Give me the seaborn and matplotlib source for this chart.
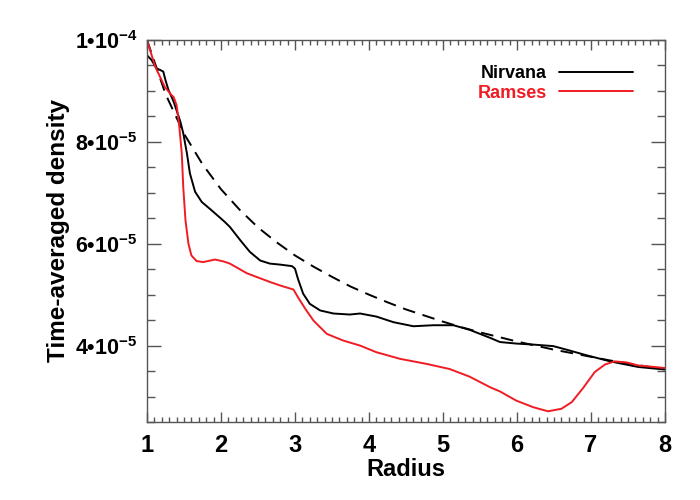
import numpy as np
import pandas as pd
import matplotlib
matplotlib.use("Agg")
import matplotlib.pyplot as plt
from matplotlib.ticker import MultipleLocator, FixedLocator, FixedFormatter
import seaborn as sns

# values, density in units of 1e-5
nirvana_r = [1.00, 1.06, 1.13, 1.18, 1.22, 1.25, 1.29, 1.36, 1.42, 1.45, 1.49, 1.54,
             1.58, 1.65, 1.74, 1.87, 2.05, 2.12, 2.26, 2.39, 2.53, 2.66, 2.80, 2.96,
             3.00, 3.04, 3.11, 3.20, 3.34, 3.52, 3.74, 3.88, 4.10, 4.33, 4.60, 4.87,
             5.14, 5.36, 5.64, 5.77, 5.99, 6.22, 6.49, 6.67, 6.94, 7.26, 7.64, 8.00]
nirvana_rho = [9.70, 9.61, 9.44, 9.41, 9.38, 9.21, 9.02, 8.79, 8.53, 8.40, 8.17, 7.77,
               7.38, 7.02, 6.82, 6.66, 6.43, 6.33, 6.07, 5.84, 5.67, 5.61, 5.59, 5.56,
               5.51, 5.31, 5.02, 4.82, 4.69, 4.63, 4.61, 4.63, 4.57, 4.46, 4.38, 4.40,
               4.40, 4.31, 4.15, 4.07, 4.04, 4.02, 3.99, 3.92, 3.81, 3.69, 3.58, 3.53]

ramses_r = [1.00, 1.11, 1.24, 1.33, 1.36, 1.40, 1.42, 1.44, 1.47, 1.49, 1.52, 1.56,
            1.60, 1.67, 1.76, 1.92, 2.04, 2.12, 2.35, 2.66, 2.80, 2.98, 3.04, 3.14,
            3.25, 3.43, 3.65, 3.88, 4.10, 4.42, 4.78, 5.09, 5.36, 5.64, 5.77, 5.99,
            6.22, 6.42, 6.60, 6.74, 6.90, 7.05, 7.19, 7.32, 7.48, 7.64, 8.00]
ramses_rho = [10.0, 9.48, 9.08, 8.92, 8.88, 8.72, 8.50, 8.25, 7.77, 7.11, 6.46, 6.00,
              5.77, 5.66, 5.64, 5.69, 5.65, 5.61, 5.42, 5.25, 5.18, 5.10, 4.95, 4.72,
              4.49, 4.23, 4.10, 4.00, 3.87, 3.74, 3.64, 3.54, 3.39, 3.18, 3.10, 2.92,
              2.79, 2.71, 2.76, 2.89, 3.18, 3.48, 3.63, 3.69, 3.67, 3.61, 3.56]

model_r = [1.00, 1.25, 1.50, 1.75, 2.00, 2.25, 2.50, 2.75, 3.00, 3.25, 3.50, 3.75,
           4.00, 4.25, 4.50, 4.75, 5.00, 5.25, 5.50, 5.75, 6.00, 6.25, 6.50, 6.75,
           7.00, 7.25, 7.50, 7.75, 8.00]
model_rho = [10.00, 8.94, 8.16, 7.56, 7.07, 6.67, 6.32, 6.03, 5.77, 5.55, 5.35, 5.16,
             5.00, 4.85, 4.71, 4.59, 4.47, 4.36, 4.26, 4.17, 4.08, 4.00, 3.92, 3.85,
             3.78, 3.71, 3.65, 3.59, 3.54]

ytick_vals = [4e-5, 6e-5, 8e-5, 1e-4]
ytick_labels = ["$\\mathbf{4\u202210^{-5}}$", "$\\mathbf{6\u202210^{-5}}$",
                "$\\mathbf{8\u202210^{-5}}$", "$\\mathbf{1\u202210^{-4}}$"]
xtick_vals = [1, 2, 3, 4, 5, 6, 7, 8]

sns.set_style("ticks")
plt.rcParams["font.family"] = ["Liberation Sans", "DejaVu Sans"]
plt.rcParams["font.weight"] = "bold"
plt.rcParams["mathtext.fontset"] = "custom"
plt.rcParams["mathtext.rm"] = "Liberation Sans:bold"
plt.rcParams["mathtext.bf"] = "Liberation Sans:bold"
plt.rcParams["mathtext.it"] = "Liberation Sans:bold"

df_n = pd.DataFrame({"r": nirvana_r, "rho": np.array(nirvana_rho) * 1e-5})
df_r = pd.DataFrame({"r": ramses_r, "rho": np.array(ramses_rho) * 1e-5})
df_m = pd.DataFrame({"r": model_r, "rho": np.array(model_rho) * 1e-5})

fig = plt.figure(figsize=(7, 5), dpi=100)
ax = fig.add_axes([0.21, 0.156, 0.74, 0.764])

sns.lineplot(data=df_m, x="r", y="rho", ax=ax, color="black", lw=1.4,
             linestyle=(0, (6.5, 4)))
sns.lineplot(data=df_n, x="r", y="rho", ax=ax, color="black", lw=1.4, label="Nirvana")
sns.lineplot(data=df_r, x="r", y="rho", ax=ax, color="#f01c24", lw=1.4, label="Ramses")

ax.set_xlim(1, 8)
ax.set_ylim(2.5e-5, 1e-4)

ax.xaxis.set_major_locator(FixedLocator(xtick_vals))
ax.xaxis.set_minor_locator(MultipleLocator(0.1))
ax.yaxis.set_major_locator(FixedLocator(ytick_vals))
ax.yaxis.set_major_formatter(FixedFormatter(ytick_labels))
ax.yaxis.set_minor_locator(MultipleLocator(5e-6))

ax.tick_params(which="both", direction="in", top=True, right=True,
               color="#555555", width=1, labelcolor="black")
ax.tick_params(axis="x", which="major", length=7, pad=9, labelsize=17)
ax.tick_params(axis="x", which="minor", length=3.5)
ax.tick_params(axis="y", which="major", length=10, pad=7, labelsize=15.5)
ax.tick_params(axis="y", which="minor", length=6)
for lab in ax.get_xticklabels():
    lab.set_fontweight("bold")
for sp in ax.spines.values():
    sp.set_color("#555555")
    sp.set_linewidth(1)

ax.set_xlabel("Radius", fontsize=17, fontweight="bold", labelpad=0, color="black")
ax.set_ylabel("Time-averaged density", fontsize=17.5, fontweight="bold",
              labelpad=3, color="black")

leg = ax.legend(loc="upper right", bbox_to_anchor=(0.938, 0.935), frameon=False,
                markerfirst=False, fontsize=13, handlelength=4.1, handletextpad=0.65,
                labelspacing=0.15, borderpad=0, borderaxespad=0, labelcolor="linecolor")
for t in leg.get_texts():
    t.set_fontweight("bold")

fig.savefig("out.png", dpi=100)
